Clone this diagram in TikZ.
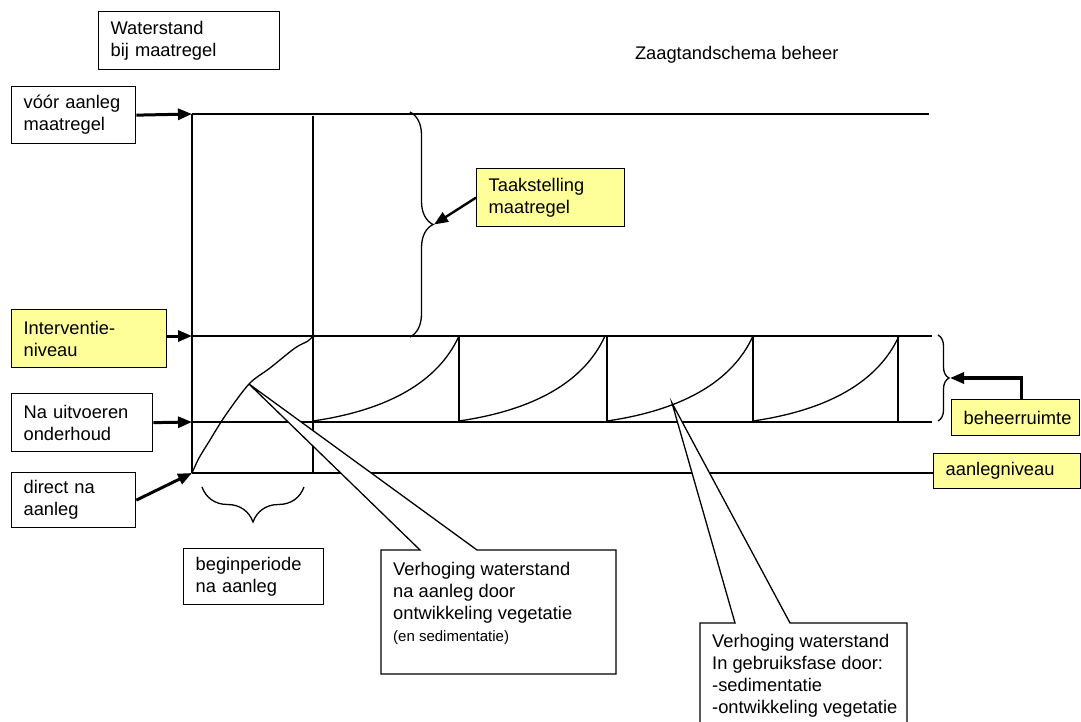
\documentclass[tikz,border=0pt]{standalone}
\usepackage{fontspec}
\setmainfont{Liberation Sans}
\usetikzlibrary{arrows.meta,decorations.pathreplacing}
\definecolor{geel}{HTML}{FFFF99}
\tikzset{
  lijn/.style={line width=1.3pt},
  vak/.style={draw, line width=1.3pt, fill=white, align=left, anchor=north west, inner xsep=12pt, inner ysep=0pt},
  geelvak/.style={vak, fill=geel},
  pijl/.style={line width=3pt, -{Triangle[length=14pt,width=11pt]}},
  accolade/.style={lijn, decorate, decoration={brace, amplitude=#1}},
}
\begin{document}
\begin{tikzpicture}[x=1pt, y=-1pt, font=\fontsize{18.3}{22}\selectfont]
    \useasboundingbox (0,0) rectangle (1081,722);
    \clip (0,0) rectangle (1081,722);

    % as en niveaulijnen
    \coordinate (a1) at (192,114);
    \coordinate (a2) at (192,336);
    \coordinate (a3) at (192,422);
    \coordinate (a4) at (192,473);
    \draw[lijn] (a1) -- (a4);
    \draw[lijn] (a1) -- (929,114);
    \draw[lijn] (a2) -- (932,336);
    \draw[lijn] (a3) -- (932,422);
    \draw[lijn] (313,116) -- (313,473);
    \foreach \x in {459,607,753,898}
        \draw[lijn] (\x,336) -- (\x,422);

    % zaagtanden
    \draw[lijn] plot[smooth] coordinates {(192,473) (199,458) (210,440) (225,416) (249,384) (270,368) (295,348) (308,341) (313,336)};
    \foreach \x in {313,459,607,753}
        \draw[lijn] (\x,421) .. controls (\x+75,410) and (\x+125,382) .. (\x+146,336);

    % tekstvakken
    \node[vak, text width=157pt, minimum height=58pt] (waterstand) at (98,11) {Waterstand\\bij maatregel};
    \node[vak, text width=100pt, minimum height=57pt] (voor) at (11,86) {vóór aanleg\\maatregel};
    \node[geelvak, text width=131pt, minimum height=58pt] (interventie) at (11,309) {Interventie-\\niveau};
    \node[vak, text width=117pt, minimum height=58pt] (onderhoud) at (11,393) {Na uitvoeren\\onderhoud};
    \node[vak, text width=100pt, minimum height=55pt] (direct) at (11,472) {direct na\\aanleg};
    \node[geelvak, text width=124pt, minimum height=58pt] (taak) at (476,168) {Taakstelling\\maatregel};
    \node[geelvak, text width=104pt, minimum height=36pt] (beheer) at (951,399) {beheerruimte};
    \node[geelvak, text width=123pt, minimum height=35pt] (aanleg) at (933,453) {aanlegniveau};
    \node[vak, text width=116pt, minimum height=56pt] (begin) at (183,548) {beginperiode\\na aanleg};
    \node[anchor=base east] (titel) at (842,60) {Zaagtandschema beheer};

    \draw[lijn] (a4) -- (a4 -| aanleg.west);

    % pijlen naar de as
    \draw[pijl] (voor.east) -- (a1);
    \draw[pijl] (interventie.east |- a2) -- (a2);
    \draw[pijl] (onderhoud.east) -- (a3);
    \draw[pijl] (direct.east) -- (a4);

    % accolades
    \draw[accolade=23pt] (410,112) -- (410,337);
    \coordinate (taakpunt) at (434,224.5);
    \draw[pijl, line width=2.4pt] (taak.west) -- (taakpunt);
    \draw[accolade=11pt] (938,335) -- (938,421);
    \coordinate (beheerpunt) at (950,378);
    \draw[pijl, line width=3.3pt] ([xshift=6pt]beheer.north) |- (beheerpunt);
    \draw[accolade=35pt] (304,487) -- (202,487);

    % toelichtingen
    \coordinate (punt1) at (249,384);
    \coordinate (punt2) at (672,403);
    \draw[lijn, fill=white] (381,550) -- (420,550) -- (punt1) -- (477,550) -- (616,550) -- (616,674) -- (381,674) -- cycle;
    \node[anchor=north west, inner sep=0pt, align=left] (verh1) at (393,562) {Verhoging waterstand\\na aanleg door\\ontwikkeling vegetatie\\{\fontsize{15}{22}\selectfont (en sedimentatie)}};
    \draw[lijn, fill=white] (700,740) -- (700,623) -- (735,623) -- (punt2) -- (790,623) -- (907,623) -- (907,740);
    \node[anchor=north west, inner sep=0pt, align=left] (verh2) at (712,634) {Verhoging waterstand\\In gebruiksfase door:\\-sedimentatie\\-ontwikkeling vegetatie};
\end{tikzpicture}
\end{document}
